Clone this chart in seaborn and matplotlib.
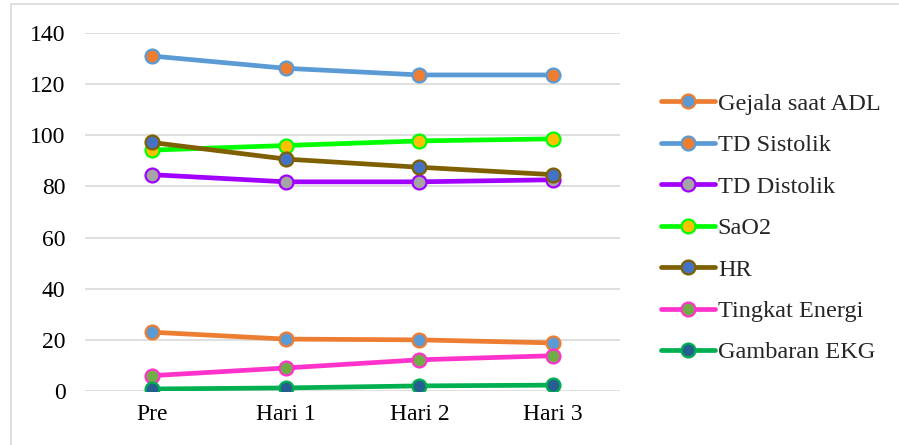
import pandas as pd
import numpy as np
import matplotlib.pyplot as plt
import seaborn as sns
from matplotlib.patches import Rectangle

# data
days = ['Pre', 'Hari 1', 'Hari 2', 'Hari 3']
gejala_adl = [23.0, 20.3, 20.0, 18.8]
td_sistolik = [131.0, 126.2, 123.6, 123.6]
td_distolik = [84.6, 81.8, 81.8, 82.6]
sao2 = [94.2, 96.0, 97.8, 98.6]
hr = [97.2, 90.7, 87.5, 84.6]
tingkat_energi = [6.0, 9.0, 12.2, 13.8]
gambaran_ekg = [0.8, 1.2, 2.0, 2.3]

series = [
    ('Gejala saat ADL', gejala_adl, '#ED7D31', '#5B9BD5'),
    ('TD Sistolik', td_sistolik, '#5B9BD5', '#ED7D31'),
    ('TD Distolik', td_distolik, '#A100FF', '#A5A5A5'),
    ('SaO2', sao2, '#00FF00', '#FFC000'),
    ('HR', hr, '#7F6000', '#4472C4'),
    ('Tingkat Energi', tingkat_energi, '#FF33CC', '#70AD47'),
    ('Gambaran EKG', gambaran_ekg, '#00B050', '#255E91'),
]

sns.set_style('white')
plt.rcParams['font.family'] = ['Liberation Serif', 'DejaVu Serif']

fig = plt.figure(figsize=(8.99, 4.45), dpi=100)
ax = fig.add_axes([85 / 899, 1 - 391 / 445, 535 / 899, 358 / 445])

x_pos = np.arange(len(days))
for name, values, line_color, face_color in series:
    df = pd.DataFrame({'x': x_pos, 'y': values})
    sns.lineplot(data=df, x='x', y='y', ax=ax, color=line_color, linewidth=3.4,
                 marker='o', markersize=10, markerfacecolor=face_color,
                 markeredgecolor=line_color, markeredgewidth=1.6, label=name)

ax.set_xlim(-0.5, len(days) - 0.5)
ax.set_ylim(0, 140)
ax.set_yticks(range(0, 141, 20))
ax.set_xticks(x_pos)
ax.set_xticklabels(days)
ax.set_xlabel('')
ax.set_ylabel('')
ax.tick_params(axis='both', length=0, labelsize=17, colors='black')
ax.tick_params(axis='y', pad=14)
ax.tick_params(axis='x', pad=9)
ax.grid(True, axis='y', color='#D9D9D9', linewidth=1.2)
ax.set_axisbelow(True)
for s in ax.spines.values():
    s.set_visible(False)

handles, labels = ax.get_legend_handles_labels()
ax.legend_.remove()
fig.legend(handles, labels, loc='upper left', bbox_to_anchor=(651 / 899, 1 - 83 / 445),
           frameon=False, fontsize=17.5, handlelength=2.25, handletextpad=0.1,
           labelspacing=0.8, borderaxespad=0)

# outer chart border
fig.patches.append(Rectangle((11 / 899, -0.1), 1.1, 1 - 4 / 445 + 0.1,
                             transform=fig.transFigure, fill=False,
                             edgecolor='#D9D9D9', linewidth=1.2))

fig.savefig('out.png', dpi=100)
